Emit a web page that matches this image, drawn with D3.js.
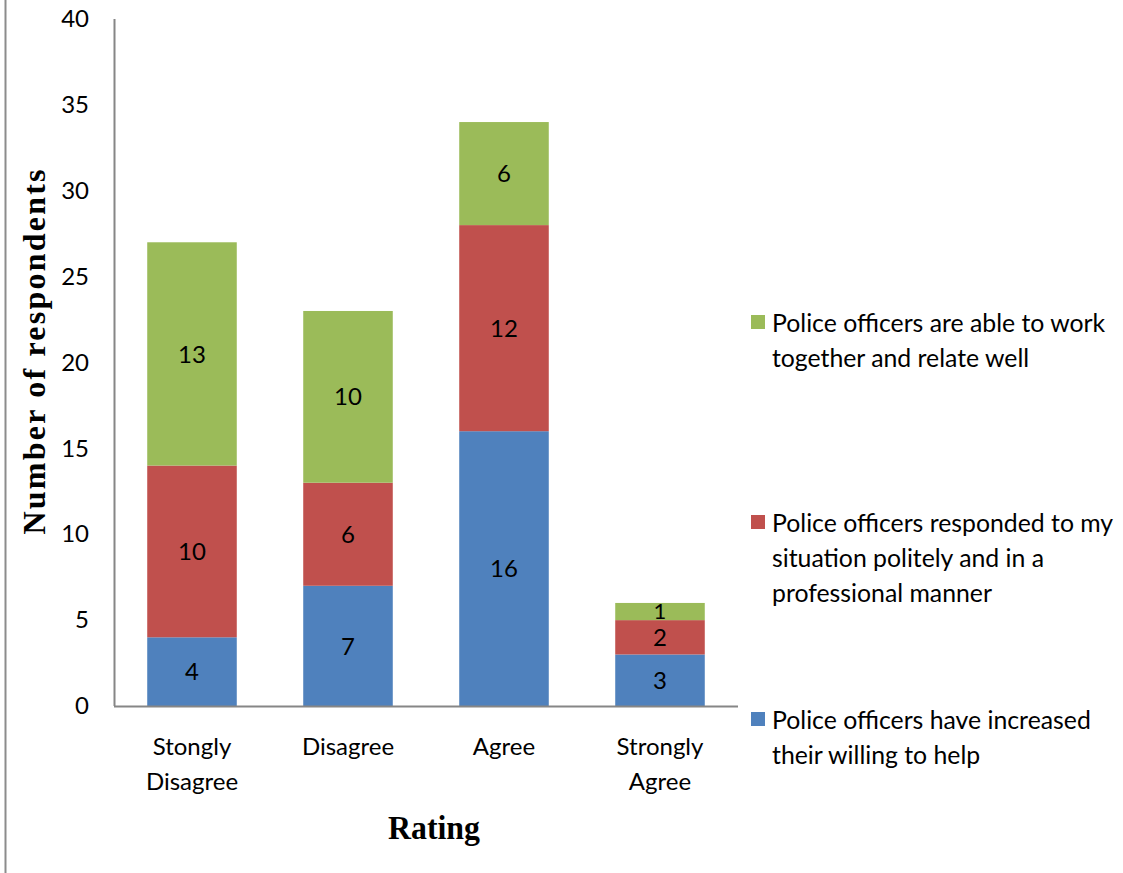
<!DOCTYPE html>
<html>
<head>
<meta charset="utf-8">
<script src="https://cdn.jsdelivr.net/npm/d3@7"></script>
<style>
  html, body { margin: 0; padding: 0; background: #fff; }
  svg { display: block; }
</style>
</head>
<body>
<svg id="chart" width="1123" height="873"></svg>
<script>
// Rating categories (multi-line labels split on "\n")
const categories = ["Stongly\nDisagree", "Disagree", "Agree", "Strongly\nAgree"];

// Series, stacked bottom to top
const seriesNames = [
  "Police officers have increased their willing to help",
  "Police officers responded to my situation politely and in a professional manner",
  "Police officers are able to work together and relate well"
];
const willingToHelp = [4, 7, 16, 3];
const politeProfessional = [10, 6, 12, 2];
const workTogether = [13, 10, 6, 1];

const yTicks = [0, 5, 10, 15, 20, 25, 30, 35, 40];

// Legend text lines (top to bottom: green, red, blue)
const legendLines = [
  ["Police officers are able to work", "together and relate well"],
  ["Police officers responded to my", "situation politely and in a", "professional manner"],
  ["Police officers have increased", "their willing to help"]
];

const colors = ["#4F81BD", "#C0504D", "#9BBB59"];
const font = "Lato, 'Open Sans', sans-serif";
const serif = "'Liberation Serif', 'Times New Roman', serif";

const svg = d3.select("#chart");

// Outer frame line on the left edge
svg.append("line")
  .attr("x1", 5.5).attr("x2", 5.5).attr("y1", 0).attr("y2", 873)
  .attr("stroke", "#8c8c8c").attr("stroke-width", 2);

const x0 = 114, x1 = 738, yBottom = 706, yTop = 19;

const x = d3.scaleBand()
  .domain(categories)
  .range([x0, x1])
  .paddingInner(0.426)
  .paddingOuter(0.213);

const y = d3.scaleLinear().domain([0, 40]).range([yBottom, yTop]);

const table = categories.map((c, i) => ({
  cat: c, s0: willingToHelp[i], s1: politeProfessional[i], s2: workTogether[i]
}));
const stack = d3.stack().keys(["s0", "s1", "s2"]);
const layers = stack(table);

const g = svg.append("g");
layers.forEach((layer, li) => {
  const lg = g.append("g");
  lg.selectAll("rect").data(layer).enter().append("rect")
    .attr("x", d => x(d.data.cat))
    .attr("width", x.bandwidth())
    .attr("y", d => y(d[1]))
    .attr("height", d => y(d[0]) - y(d[1]))
    .attr("fill", colors[li]);
  lg.selectAll("text").data(layer).enter().append("text")
    .attr("x", d => x(d.data.cat) + x.bandwidth() / 2)
    .attr("y", d => y((d[0] + d[1]) / 2))
    .attr("dy", "0.36em")
    .attr("text-anchor", "middle")
    .attr("font-family", font)
    .attr("font-size", d => (d[1] - d[0]) < 2 ? 22 : 24)
    .attr("fill", "#000")
    .text(d => d[1] - d[0]);
});

// Y axis
const yAxis = d3.axisLeft(y).tickValues(yTicks).tickSize(0).tickPadding(25);
const yg = svg.append("g").attr("transform", `translate(${x0},0)`).call(yAxis);
yg.select(".domain").attr("stroke", "#868686").attr("stroke-width", 2)
  .attr("d", `M0.5,${yTop}V${yBottom}`);
yg.selectAll("text").attr("font-family", font).attr("font-size", 24).attr("fill", "#000");

// X axis
const xAxis = d3.axisBottom(x).tickSize(0).tickFormat("");
const xg = svg.append("g").attr("transform", `translate(0,${yBottom})`).call(xAxis);
xg.select(".domain").attr("stroke", "#868686").attr("stroke-width", 2)
  .attr("d", `M${x0},0.5H${x1}`);

// Category labels
const catG = svg.append("g");
categories.forEach(c => {
  const cx = x(c) + x.bandwidth() / 2;
  const t = catG.append("text")
    .attr("x", cx)
    .attr("y", 755)
    .attr("text-anchor", "middle")
    .attr("font-family", font)
    .attr("font-size", 24)
    .attr("fill", "#000");
  c.split("\n").forEach((line, i) => {
    t.append("tspan").attr("x", cx).attr("dy", i === 0 ? 0 : 35).text(line);
  });
});

// Axis titles
svg.append("text")
  .attr("transform", `translate(45,352) rotate(-90)`)
  .attr("text-anchor", "middle")
  .attr("font-family", serif)
  .attr("font-weight", "bold")
  .attr("font-size", 32)
  .attr("textLength", 365)
  .attr("lengthAdjust", "spacing")
  .text("Number of respondents");

svg.append("text")
  .attr("x", 434).attr("y", 839)
  .attr("text-anchor", "middle")
  .attr("font-family", serif)
  .attr("font-weight", "bold")
  .attr("font-size", 33)
  .attr("textLength", 92)
  .attr("lengthAdjust", "spacingAndGlyphs")
  .text("Rating");

// Legend
const legendColors = [colors[2], colors[1], colors[0]];
const legendTop = [323, 523, 720];
legendLines.forEach((lines, i) => {
  const lg = svg.append("g");
  lg.append("rect")
    .attr("x", 751).attr("y", legendTop[i] - 8)
    .attr("width", 14).attr("height", 14)
    .attr("fill", legendColors[i]);
  const t = lg.append("text")
    .attr("x", 772).attr("y", legendTop[i])
    .attr("font-family", font)
    .attr("font-size", 24.8)
    .attr("fill", "#000");
  lines.forEach((line, j) => {
    t.append("tspan").attr("x", 772).attr("dy", j === 0 ? "0.36em" : 35).text(line);
  });
});
</script>
</body>
</html>
